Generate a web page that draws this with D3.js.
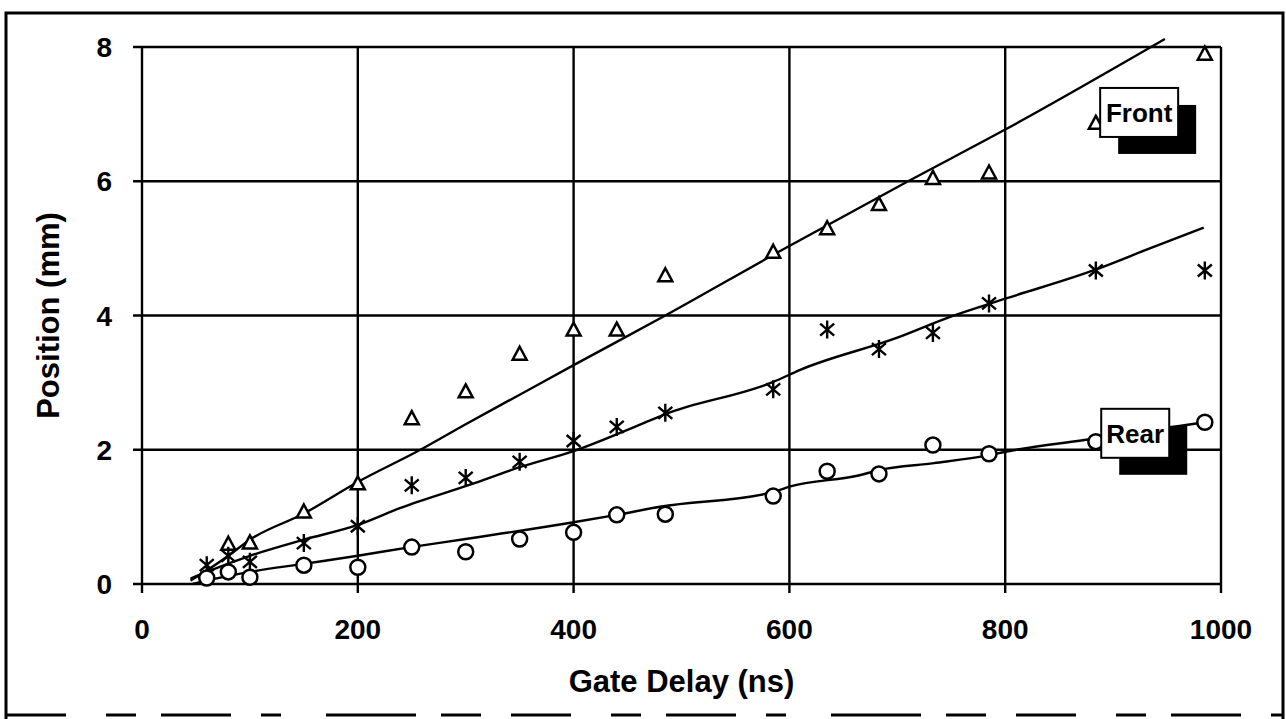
<!DOCTYPE html>
<html>
<head>
<meta charset="utf-8">
<script src="https://cdn.jsdelivr.net/npm/d3@7"></script>
<style>
  html, body { margin: 0; padding: 0; background: #fff; }
  svg text { font-family: "Liberation Sans", Arial, Helvetica, sans-serif; font-weight: bold; fill: #000; }
</style>
</head>
<body>
<svg id="chart"></svg>
<script>
const width = 1286;
const height = 719;

// gate delays (ns) shared by all three series
const delays = [60, 80, 100, 150, 200, 250, 300, 350, 400, 440, 485, 585, 635, 683, 733, 785, 884, 985];
// measured positions (mm); null = no point
const frontPos = [null, 0.6, 0.62, 1.08, 1.5, 2.47, 2.87, 3.43, 3.79, 3.79, 4.6, 4.95, 5.3, 5.66, 6.05, 6.13, 6.87, 7.9];
const midPos = [0.28, 0.42, 0.33, 0.61, 0.86, 1.47, 1.58, 1.82, 2.13, 2.34, 2.55, 2.9, 3.79, 3.5, 3.74, 4.18, 4.67, 4.67];
const rearPos = [0.09, 0.18, 0.1, 0.28, 0.25, 0.55, 0.48, 0.67, 0.77, 1.03, 1.04, 1.31, 1.68, 1.64, 2.07, 1.94, 2.12, 2.41];

// fitted curves
const frontFitX = [45, 60, 80, 100, 150, 200, 258, 300, 350, 400, 485, 588, 710, 800, 948];
const frontFitY = [0.05, 0.2, 0.42, 0.66, 1.05, 1.52, 2.0, 2.38, 2.82, 3.26, 4.0, 4.93, 6.0, 6.77, 8.12];
const midFitX = [45, 60, 100, 150, 200, 239, 304, 350, 400, 461, 485, 585, 610, 700, 749, 800, 885, 931, 984];
const midFitY = [0.08, 0.18, 0.42, 0.66, 0.88, 1.13, 1.48, 1.74, 1.98, 2.37, 2.53, 3.01, 3.19, 3.67, 3.98, 4.25, 4.69, 4.98, 5.31];
const rearFitX = [47, 60, 100, 150, 200, 249, 300, 400, 440, 480, 585, 600, 665, 684, 734, 785, 800, 880, 985];
const rearFitY = [0.0, 0.05, 0.18, 0.3, 0.42, 0.55, 0.67, 0.92, 1.03, 1.15, 1.37, 1.45, 1.62, 1.7, 1.8, 1.92, 1.97, 2.16, 2.41];

const xTicks = [0, 200, 400, 600, 800, 1000];
const yTicks = [0, 2, 4, 6, 8];

// label boxes: [text, delay, position]
const labels = [["Front", 888, 7.39], ["Rear", 889, 2.61]];

const svg = d3.select('#chart').attr('width', width).attr('height', height);

const x = d3.scaleLinear().domain([0, 1000]).range([142, 1221]);
const y = d3.scaleLinear().domain([0, 8]).range([584, 47]);

// outer frame
svg.append('path')
  .attr('d', 'M6,719 L6,13 L1283,13 L1283,719')
  .attr('fill', 'none').attr('stroke', '#000').attr('stroke-width', 3);
svg.append('line')
  .attr('x1', 6).attr('x2', 1283).attr('y1', 715).attr('y2', 715)
  .attr('stroke', '#000').attr('stroke-width', 3)
  .attr('stroke-dasharray', '60 40 30 25 70 30 20 45 90 25 40 30');

// grid
const grid = svg.append('g').attr('stroke', '#000').attr('stroke-width', 2.4);
grid.selectAll('.hg').data(yTicks).enter().append('line')
  .attr('x1', x(0) - 9).attr('x2', x(1000))
  .attr('y1', d => y(d)).attr('y2', d => y(d));
grid.selectAll('.vg').data(xTicks).enter().append('line')
  .attr('x1', d => x(d)).attr('x2', d => x(d))
  .attr('y1', y(8)).attr('y2', y(0) + 9);

// tick labels
svg.append('g').selectAll('text').data(yTicks).enter().append('text')
  .attr('x', 112).attr('y', d => y(d)).attr('dy', '0.36em')
  .attr('text-anchor', 'end').attr('font-size', 28)
  .text(d => d);
svg.append('g').selectAll('text').data(xTicks).enter().append('text')
  .attr('x', d => x(d)).attr('y', 639)
  .attr('text-anchor', 'middle').attr('font-size', 28)
  .text(d => d);

// axis titles
svg.append('text')
  .attr('x', (x(0) + x(1000)) / 2).attr('y', 692)
  .attr('text-anchor', 'middle').attr('font-size', 31)
  .text('Gate Delay (ns)');
svg.append('text')
  .attr('transform', `translate(59, ${(y(0) + y(8)) / 2}) rotate(-90)`)
  .attr('text-anchor', 'middle').attr('font-size', 31)
  .text('Position (mm)');

// fitted curves
const line = d3.line().x(d => x(d[0])).y(d => y(d[1])).curve(d3.curveMonotoneX);
[[frontFitX, frontFitY], [midFitX, midFitY], [rearFitX, rearFitY]].forEach(([fx, fy]) => {
  svg.append('path')
    .datum(fx.map((v, i) => [v, fy[i]]))
    .attr('fill', 'none').attr('stroke', '#000').attr('stroke-width', 2.4)
    .attr('d', line);
});

// markers
const pts = arr => delays.map((d, i) => [d, arr[i]]).filter(p => p[1] != null);

svg.append('g').selectAll('path').data(pts(frontPos)).enter().append('path')
  .attr('transform', d => `translate(${x(d[0])},${y(d[1])})`)
  .attr('d', 'M0,-7 L7,6 L-7,6 Z')
  .attr('fill', '#fff').attr('stroke', '#000').attr('stroke-width', 2.5);

svg.append('g').selectAll('path').data(pts(midPos)).enter().append('path')
  .attr('transform', d => `translate(${x(d[0])},${y(d[1])})`)
  .attr('d', 'M0,-9 L0,9 M-7,-6 L7,6 M-7,6 L7,-6')
  .attr('fill', 'none').attr('stroke', '#000').attr('stroke-width', 2.4);

svg.append('g').selectAll('circle').data(pts(rearPos)).enter().append('circle')
  .attr('cx', d => x(d[0])).attr('cy', d => y(d[1])).attr('r', 7.5)
  .attr('fill', '#fff').attr('stroke', '#000').attr('stroke-width', 2.5);

// label boxes with black drop shadow
labels.forEach(([txt, lx, ly]) => {
  const g = svg.append('g').attr('transform', `translate(${x(lx)},${y(ly)})`);
  const w = txt === 'Front' ? 78 : 68;
  g.append('rect').attr('x', 18).attr('y', 17).attr('width', w).attr('height', 49).attr('fill', '#000');
  g.append('rect').attr('x', 0).attr('y', 0).attr('width', w).attr('height', 49)
    .attr('fill', '#fff').attr('stroke', '#000').attr('stroke-width', 2);
  g.append('text').attr('x', w / 2).attr('y', 34)
    .attr('text-anchor', 'middle').attr('font-size', 26).text(txt);
});
</script>
</body>
</html>
